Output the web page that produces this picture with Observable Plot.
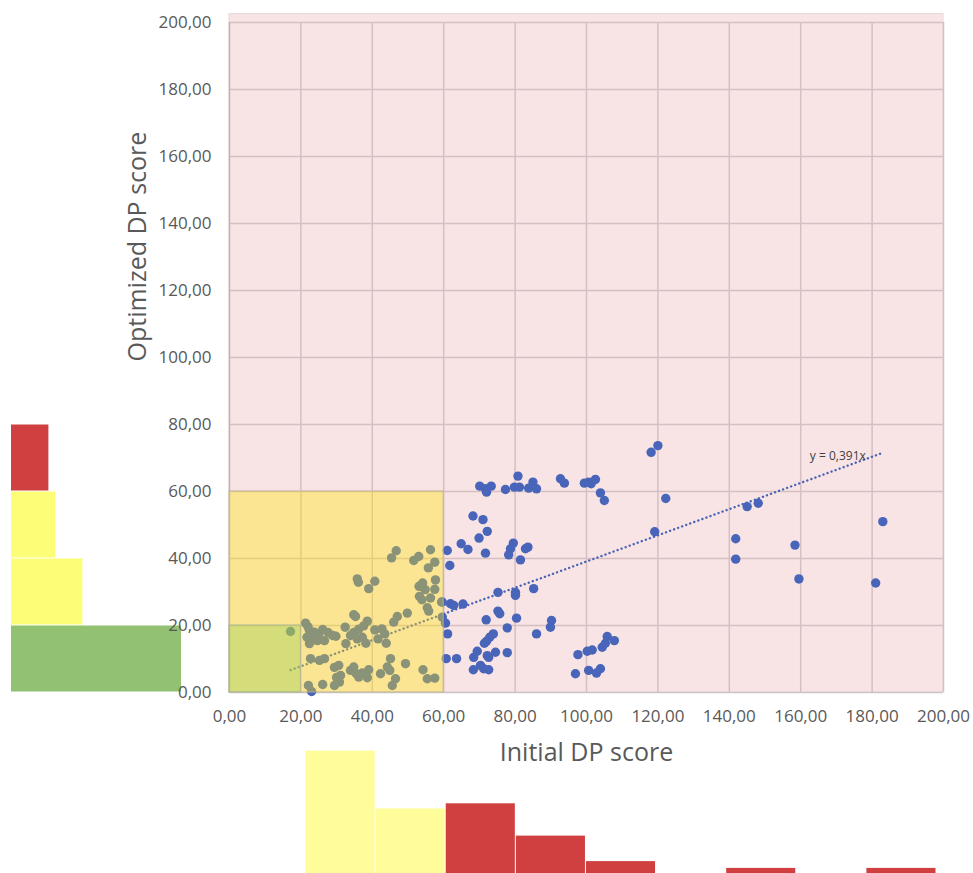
<!DOCTYPE html>
<html>
<head>
<meta charset="utf-8">
<script src="https://cdn.jsdelivr.net/npm/d3@7"></script>
<script src="https://cdn.jsdelivr.net/npm/@observablehq/plot@0.6"></script>
<style>
  html, body { margin: 0; padding: 0; background: #ffffff; overflow: hidden; }
  #wrap { position: relative; width: 973px; height: 873px; }
  #wrap svg { position: absolute; }
</style>
</head>
<body>
<div id="wrap"></div>
<script>
// ---- data ----
const initialScores = [
  17.1,21.3,22.4,21.7,23.8,26.1,24.6,26.6,28.9,22.4,22.7,25.2,26.6,29.4,30.0,22.1,23.0,26.1,29.4,22.0,25.0,23.3,27.6,
  34.8,35.3,38.6,37.6,36.2,34.8,33.9,37.2,35.8,38.2,32.4,32.6,29.8,40.7,42.7,43.5,41.6,43.9,47.0,49.8,46.0,
  30.6,31.1,33.9,34.8,35.5,37.2,39.0,38.6,42.3,44.2,45.1,44.9,46.5,45.6,49.3,54.2,55.4,57.5,30.8,36.2,
  46.7,45.4,53.0,51.6,56.3,57.5,55.7,35.8,36.1,40.7,39.0,54.1,53.1,54.8,57.7,57.5,53.2,53.9,56.3,55.4,55.8,59.4,
  118.1,120.0,122.2,119.1,
  70.1,71.7,72.0,73.3,77.3,79.8,80.8,81.2,83.8,85.0,86.0,
  92.7,93.8,99.4,100.6,101.3,102.5,103.9,105.0,
  68.2,71.0,72.2,69.9,
  64.9,66.8,61.0,61.7,71.7,
  79.5,78.7,78.2,81.5,83.6,82.9,
  75.2,80.1,80.1,85.2,
  59.6,61.9,62.8,65.4,
  59.6,60.5,61.1,
  75.2,75.7,71.9,80.4,77.8,
  90.2,89.9,86.0,
  73.9,72.9,72.0,71.4,
  60.7,63.6,
  69.4,68.4,68.3,70.3,71.2,72.6,72.6,74.5,77.8,72.2,
  96.9,97.6,100.2,101.6,100.6,102.8,103.9,
  104.4,105.3,105.8,107.8,
  145.0,148.1,141.8,141.8,158.4,159.5,183.0,181.0
];
const optimizedScores = [
  18.2,20.7,18.5,16.5,18.0,18.8,15.5,15.5,17.0,14.6,10.1,9.6,10.1,7.5,4.5,2.1,0.3,2.4,2.1,19.6,17.2,16.0,17.9,
  23.2,22.7,21.3,19.9,18.9,17.9,17.0,16.5,16.0,14.7,19.5,14.6,16.8,18.7,19.0,17.5,16.0,14.7,22.7,23.7,21.0,
  8.1,5.1,6.6,7.6,5.6,5.8,6.8,4.4,5.6,7.6,10.1,6.6,4.1,2.1,8.6,6.8,4.1,4.3,3.1,4.6,
  42.3,40.2,40.6,39.4,42.6,38.9,37.2,33.9,32.9,33.2,31.0,32.7,31.7,30.7,33.6,30.8,28.7,27.7,28.2,25.3,24.3,27.0,
  71.7,73.7,57.9,48.0,
  61.6,60.8,59.8,61.6,60.6,61.3,64.6,61.3,61.0,62.8,60.8,
  63.8,62.5,62.5,62.8,62.3,63.6,59.6,57.3,
  52.7,51.6,48.1,46.1,
  44.4,42.7,42.4,37.9,41.6,
  44.6,42.9,41.1,39.6,43.4,42.9,
  29.9,29.9,29.0,31.0,
  27.0,26.5,26.0,26.4,
  22.5,20.7,17.5,
  24.3,23.5,21.7,22.2,19.3,
  21.5,19.5,17.5,
  17.5,16.5,15.3,14.7,
  10.1,10.1,
  12.3,10.5,6.8,8.1,7.1,6.8,10.5,12.0,11.9,11.0,
  5.6,11.3,12.3,12.7,6.6,5.8,7.1,
  13.5,14.7,16.7,15.5,
  55.5,56.5,45.9,39.8,44.0,33.9,51.0,32.7
];
const axisTicks = [0,20,40,60,80,100,120,140,160,180,200];
const trendSlope = 0.391;
const trendLabel = "y = 0,391x";
const xTitle = "Initial DP score";
const yTitle = "Optimized DP score";

// histogram of optimized scores (left, horizontal)
const leftBinStart = [0,20,40,60];
const leftCounts = [100,42,26,22];
const leftColors = ["#92C171","#FEFD78","#FEFD78","#D04041"];
// histogram of initial scores (bottom)
const bottomBinStart = [20,40,60,80,100,120,140,160,180];
const bottomCounts = [72,38,41,22,7,0,3,0,3];
const bottomColors = ["#FFFD9A","#FFFD9A","#D04041","#D04041","#D04041","#D04041","#D04041","#D04041","#D04041"];
const binWidth = 20;

// zones: [x1,x2,y1,y2]
const zoneAll = [0,200,0,202.5];
const zoneYellow = [0,60,0,60];
const zoneGreen = [0,20,0,20];

// ---- build ----
const points = initialScores.map((x,i) => ({x, y: optimizedScores[i]}));
const fmt = d => d.toFixed(2).replace(".", ",");
const zoneRec = z => [{x1:z[0], x2:z[1], y1:z[2], y2:z[3]}];
const [xMin, xMax] = d3.extent(initialScores);
const trend = [xMin, xMax].map(x => ({x, y: trendSlope * x}));

const W = 973, H = 873;
const mL = 229, mR = 30, mT = 22, mB = 181;
const pxPerCount = 1.7;

const wrap = document.getElementById("wrap");

// left histogram
const leftData = leftBinStart.map((s,i) => ({y1:s, y2:s+binWidth, c:leftCounts[i], color:leftColors[i]}));
const leftPlot = Plot.plot({
  width: 229, height: H,
  marginLeft: 11, marginRight: 229 - 11 - 100*pxPerCount, marginTop: mT, marginBottom: mB,
  x: {domain: [0, 100], axis: null},
  y: {domain: [0, 200], axis: null},
  style: {background: "transparent"},
  marks: [
    Plot.rectX(leftData, {x1: 0, x2: "c", y1: "y1", y2: "y2", fill: "color", insetTop: 0.5, insetBottom: 0.5})
  ]
});
leftPlot.style.left = "0px"; leftPlot.style.top = "0px";
wrap.appendChild(leftPlot);

// bottom histogram
const bH = 133;
const bottomData = bottomBinStart.map((s,i) => ({x1:s, x2:s+binWidth, c:bottomCounts[i], color:bottomColors[i]})).filter(d => d.c > 0);
const bottomPlot = Plot.plot({
  width: W, height: bH,
  marginLeft: 305, marginRight: 37, marginTop: 0, marginBottom: 0,
  x: {domain: [20, 200], axis: null},
  y: {domain: [0, bH / pxPerCount], axis: null},
  style: {background: "transparent"},
  marks: [
    Plot.rectY(bottomData, {x1: "x1", x2: "x2", y1: 0, y2: "c", fill: "color", insetLeft: 0.5, insetRight: 0.5})
  ]
});
bottomPlot.style.left = "0px"; bottomPlot.style.top = (H - bH) + "px";
wrap.appendChild(bottomPlot);

// main scatter
const mainPlot = Plot.plot({
  width: W, height: H,
  marginLeft: mL, marginRight: mR, marginTop: mT, marginBottom: mB,
  x: {domain: [0, 200]},
  y: {domain: [0, 200]},
  style: {background: "transparent", fontFamily: "'Open Sans', sans-serif", color: "#595959"},
  marks: [
    Plot.rect(zoneRec(zoneAll), {x1:"x1", x2:"x2", y1:"y1", y2:"y2", fill: "#F9E4E5", stroke: "#E6D8DA", strokeWidth: 1}),
    Plot.gridX(axisTicks, {stroke: "#D6BFC3", strokeOpacity: 1, strokeWidth: 1.5}),
    Plot.gridY(axisTicks, {stroke: "#D6BFC3", strokeOpacity: 1, strokeWidth: 1.5}),
    Plot.ruleX([0], {y1: 0, y2: 200, stroke: "#B8B8B8", strokeWidth: 1.2}),
    Plot.ruleY([0], {x1: 0, x2: 200, stroke: "#C8C8C8", strokeWidth: 1.2}),
    Plot.line(trend, {x: "x", y: "y", stroke: "#4863B6", strokeWidth: 2.4, strokeDasharray: "0.1,4.2", strokeLinecap: "round"}),
    Plot.dot(points, {x: "x", y: "y", r: 4.7, fill: "#4865BA", stroke: "none"}),
    Plot.rect(zoneRec(zoneYellow), {x1:"x1", x2:"x2", y1:"y1", y2:"y2", fill: "rgb(255,230,0)", fillOpacity: 0.36, stroke: "#B9B49A", strokeOpacity: 0.7, strokeWidth: 1.2}),
    Plot.rect(zoneRec(zoneGreen), {x1:"x1", x2:"x2", y1:"y1", y2:"y2", fill: "rgb(146,208,80)", fillOpacity: 0.36, stroke: "#A9B59A", strokeOpacity: 0.7, strokeWidth: 1.2}),
    Plot.text([trendLabel], {text: d => d, x: 170.4, y: 70.5, fontSize: 12, fill: "#404040", textAnchor: "middle", lineAnchor: "middle"}),
    Plot.axisX(axisTicks, {tickFormat: fmt, tickSize: 0, tickPadding: 17, fontSize: 17, label: null, fill: "#595959"}),
    Plot.axisY(axisTicks, {tickFormat: fmt, tickSize: 0, tickPadding: 18, fontSize: 17, label: null, fill: "#595959"}),
    Plot.text([xTitle], {text: d => d, frameAnchor: "bottom", dy: 60, fontSize: 25, fill: "#595959", lineAnchor: "middle"}),
    Plot.text([yTitle], {text: d => d, frameAnchor: "left", dx: -92, dy: 4, rotate: -90, fontSize: 25, fill: "#595959", lineAnchor: "middle"})
  ]
});
mainPlot.style.left = "0px"; mainPlot.style.top = "0px";
wrap.appendChild(mainPlot);
</script>
</body>
</html>
